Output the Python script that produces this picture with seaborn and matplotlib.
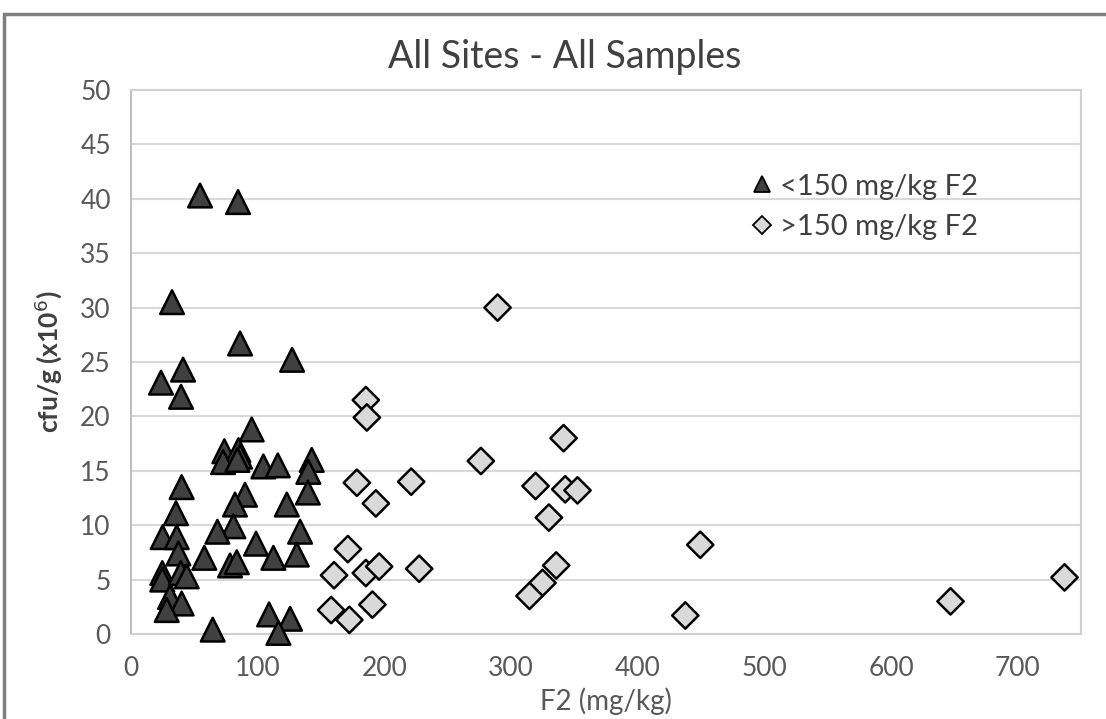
import numpy as np
import pandas as pd
import matplotlib.pyplot as plt
import seaborn as sns
from matplotlib.lines import Line2D
from matplotlib.patches import Rectangle

# Datos
low_label = '<150 mg/kg F2'
high_label = '>150 mg/kg F2'

low_f2 = [54.5, 84.5, 32.4, 86.1, 127.2, 23.7, 41.1, 39.5, 95.3, 73.7,
          84.8, 86.1, 72.7, 84.0, 104.5, 115.9, 142.7, 140.0, 139.6, 40.0,
          35.5, 90.0, 82.1, 123.0, 80.8, 68.2, 25.0, 36.1, 37.4, 133.5,
          98.7, 57.9, 78.2, 83.5, 112.4, 130.9, 24.7, 24.7, 39.3, 44.0,
          30.8, 40.0, 28.2, 64.5, 109.0, 125.6, 116.4]
low_cfu = [40.3, 39.7, 30.5, 26.7, 25.2, 23.1, 24.3, 21.8, 18.8, 16.8,
           16.9, 16.3, 15.8, 16.0, 15.4, 15.5, 16.0, 14.9, 13.0, 13.5,
           11.1, 12.8, 11.9, 11.9, 9.9, 9.4, 8.9, 8.9, 7.4, 9.4,
           8.3, 7.0, 6.3, 6.6, 7.0, 7.3, 5.6, 5.0, 5.6, 5.3,
           3.4, 2.8, 2.2, 0.4, 1.8, 1.4, 0.1]

high_f2 = [289.4, 185.4, 186.2, 341.5, 276.2, 178.3, 221.2, 193.3, 319.4, 342.8,
           352.5, 329.9, 171.2, 160.3, 185.4, 195.9, 227.5, 335.7, 324.9, 314.6,
           158.0, 172.4, 190.6, 449.4, 437.6, 647.0, 737.0]
high_cfu = [30.0, 21.5, 19.9, 18.0, 15.9, 13.9, 14.0, 12.0, 13.6, 13.3,
            13.2, 10.7, 7.8, 5.4, 5.6, 6.2, 6.0, 6.3, 4.7, 3.5,
            2.2, 1.3, 2.7, 8.2, 1.7, 3.0, 5.2]

data = pd.DataFrame({
    'F2': low_f2 + high_f2,
    'cfu': low_cfu + high_cfu,
    'group': [low_label] * len(low_f2) + [high_label] * len(high_f2),
})

sns.set_style('white')
plt.rcParams['font.family'] = ['Lato', 'DejaVu Sans']

fig = plt.figure(figsize=(11.06, 7.19), dpi=100)
ax = fig.add_axes([131 / 1106, 1 - 634 / 719, 950 / 1106, 544 / 719])

# marco gris del grafico
fig.patches.append(Rectangle((4 / 1106, -0.1), 1.2, 1.1 - 14 / 719,
                             transform=fig.transFigure, fill=False,
                             edgecolor='#7f7f7f', linewidth=2.5))

sns.scatterplot(data=data, x='F2', y='cfu', hue='group', style='group', size='group',
                markers={low_label: '^', high_label: 'D'},
                palette={low_label: '#404040', high_label: '#d9d9d9'},
                sizes={low_label: 290, high_label: 180},
                edgecolor='black', linewidth=1.8, legend=False, ax=ax, zorder=3)
for coll in ax.collections:
    coll.set_clip_on(False)

ax.set_xlim(0, 750)
ax.set_ylim(0, 50)
ax.set_xticks(np.arange(0, 701, 100))
ax.set_yticks(np.arange(0, 51, 5))
ax.yaxis.grid(True, color='#d9d9d9', linewidth=1.5)
ax.xaxis.grid(False)
ax.set_axisbelow(True)
for side in ['left', 'bottom', 'top', 'right']:
    ax.spines[side].set_color('#d0d0d0')
    ax.spines[side].set_linewidth(1.5)
ax.spines['left'].set_color('#bfbfbf')
ax.tick_params(axis='both', direction='inout', length=13, width=1.2, color='#bfbfbf',
               labelcolor='#595959', labelsize=19, pad=8)
ax.tick_params(axis='x', pad=9)

ax.set_xlabel('F2 (mg/kg)', fontsize=20, color='#595959', labelpad=5)
ax.set_ylabel('cfu/g (x10$^6$)', fontsize=19, color='#404040', fontweight='bold', labelpad=12)
fig.text(565 / 1106, 1 - 57 / 719, 'All Sites - All Samples', fontsize=27, color='#404040',
         ha='center', va='center')

handles = [
    Line2D([], [], marker='^', linestyle='none', markersize=12, markerfacecolor='#404040',
           markeredgecolor='black', markeredgewidth=1.3),
    Line2D([], [], marker='D', linestyle='none', markersize=9, markerfacecolor='#d9d9d9',
           markeredgecolor='black', markeredgewidth=1.3),
]
ax.legend(handles, [low_label, high_label], loc='upper left',
          bbox_to_anchor=((733 - 131) / 950, (634 - 159) / 544),
          frameon=False, fontsize=21, labelcolor='#404040', handletextpad=0.1,
          handlelength=1.0, labelspacing=0.5, borderpad=0)

fig.savefig('out.png', dpi=100)
